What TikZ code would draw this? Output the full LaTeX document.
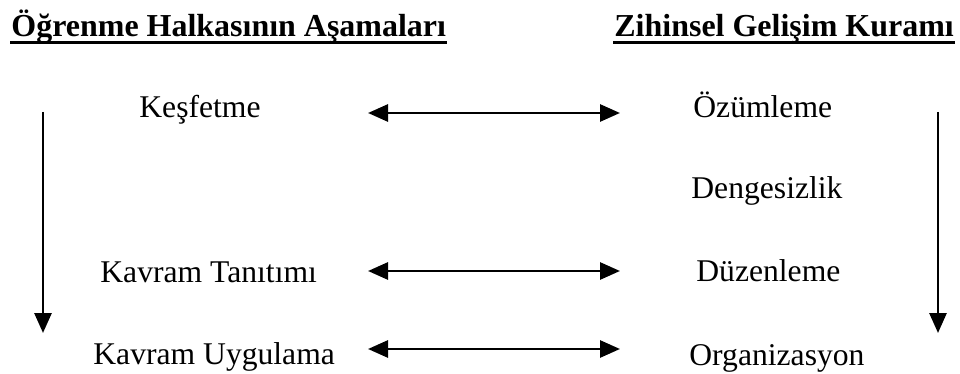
\documentclass[tikz,border=0pt]{standalone}
\usepackage{fontspec}
\setmainfont{Liberation Serif}
\usetikzlibrary{arrows.meta}

\begin{document}
\begin{tikzpicture}[x=0.02cm,y=-0.02cm,>={Triangle[length=0.4cm,width=0.34cm]},
      line width=1.6pt,
      every node/.style={inner sep=0pt,anchor=base west},
      stage/.style={font=\fontsize{18}{21}\selectfont},
      head/.style={font=\fontsize{18.2}{22}\selectfont\bfseries}]
    \useasboundingbox (0,0) rectangle (960,374);
    \node[head] (lhead) at (10,37) {Öğrenme Halkasının Aşamaları};
    \node[head] (rhead) at (613,37) {Zihinsel Gelişim Kuramı};
    \draw[line width=1.9pt] ([yshift=-0.105cm]lhead.base west) -- ([yshift=-0.105cm]lhead.base east);
    \draw[line width=1.9pt] ([yshift=-0.105cm]rhead.base west) -- ([yshift=-0.105cm]rhead.base east);
    \node[stage] (kesfet) at (138,118) {Keşfetme};
    \node[stage] (tanitim) at (99,283) {Kavram Tanıtımı};
    \node[stage] (uygula) at (92,365) {Kavram Uygulama};
    \node[stage] (ozum) at (692,118) {Özümleme};
    \node[stage] (denge) at (690,199) {Dengesizlik};
    \node[stage] (duzen) at (695,282) {Düzenleme};
    \node[stage] (organ) at (688,366) {Organizasyon};
    \foreach \nm/\y in {a/113,b/271,c/349}{
      \coordinate (\nm l) at (368,\y);
      \coordinate (\nm r) at (620,\y);
      \draw[<->] (\nm l) -- (\nm r);
    }
    \coordinate (ltop) at (43,112);
    \coordinate (lbot) at (43,333);
    \coordinate (rtop) at (938,112);
    \coordinate (rbot) at (938,333);
    \draw[->] (ltop) -- (lbot);
    \draw[->] (rtop) -- (rbot);
\end{tikzpicture}
\end{document}
